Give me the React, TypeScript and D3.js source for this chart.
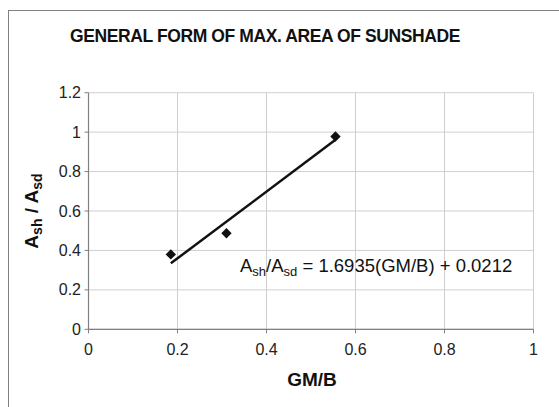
import React from 'react';
import * as d3 from 'd3';

const gmB = [0.185, 0.31, 0.555];
const areaRatio = [0.38, 0.487, 0.978];
const xTicks = [0, 0.2, 0.4, 0.6, 0.8, 1];
const yTicks = [0, 0.2, 0.4, 0.6, 0.8, 1, 1.2];
const slope = 1.6935;
const intercept = 0.0212;

const W = 559;
const H = 407;
const font = 'Arial, "Liberation Sans", Helvetica, sans-serif';

export default function App() {
  const x = d3.scaleLinear().domain([0, 1]).range([88.5, 533.5]);
  const y = d3.scaleLinear().domain([0, 1.2]).range([329.3, 92.7]);

  const xMin = d3.min(gmB) as number;
  const xMax = d3.max(gmB) as number;
  const trend = d3.line<number>()
    .x(d => x(d))
    .y(d => y(slope * d + intercept))([xMin, xMax]);

  const diamond = d3.symbol().type(d3.symbolDiamond2).size(68)();

  return (
    <svg width={W} height={H} style={{ position: 'absolute', left: 0, top: 0, fontFamily: font }}>
      <rect x={0} y={0} width={W} height={H} fill="#fff" />
      {/* chart border */}
      <rect x={8.5} y={10.5} width={W + 10} height={H + 10} fill="none" stroke="#808080" strokeWidth={1} />

      <text x={265} y={42} textAnchor="middle" fontWeight="bold" fontSize={17.5} letterSpacing={-0.4} fill="#111">
        GENERAL FORM OF MAX. AREA OF SUNSHADE
      </text>

      {/* grid */}
      {xTicks.map(t => (
        <line key={'gx' + t} x1={x(t)} x2={x(t)} y1={y(0)} y2={y(1.2)} stroke="#cfcfcf" strokeWidth={1} />
      ))}
      {yTicks.map(t => (
        <line key={'gy' + t} x1={x(0)} x2={x(1)} y1={y(t)} y2={y(t)} stroke="#cfcfcf" strokeWidth={1} />
      ))}

      {/* axes */}
      <line x1={x(0)} x2={x(0)} y1={y(0)} y2={y(1.2)} stroke="#808080" strokeWidth={1.2} />
      <line x1={x(0)} x2={x(1)} y1={y(0)} y2={y(0)} stroke="#808080" strokeWidth={1.2} />
      {yTicks.map(t => (
        <g key={'ty' + t}>
          <line x1={x(0) - 4} x2={x(0)} y1={y(t)} y2={y(t)} stroke="#808080" />
          <text x={81} y={y(t) + 5.5} textAnchor="end" fontSize={16} fill="#222">{d3.format('~g')(t)}</text>
        </g>
      ))}
      {xTicks.map(t => (
        <g key={'tx' + t}>
          <line x1={x(t)} x2={x(t)} y1={y(0)} y2={y(0) + 4} stroke="#808080" />
          <text x={x(t)} y={355} textAnchor="middle" fontSize={16} fill="#222">{d3.format('~g')(t)}</text>
        </g>
      ))}

      {/* trendline */}
      <path d={trend ?? ''} fill="none" stroke="#111" strokeWidth={2.5} />

      {/* points */}
      {gmB.map((v, i) => (
        <path key={'p' + i} d={diamond ?? ''} transform={`translate(${x(v)},${y(areaRatio[i])})`} fill="#111" />
      ))}

      {/* equation */}
      <text x={240} y={272} fontSize={18.5} fill="#111">
        A<tspan fontSize={13} dy={4}>sh</tspan>
        <tspan dy={-4}>/A</tspan>
        <tspan fontSize={13} dy={4}>sd</tspan>
        <tspan dy={-4}> = 1.6935(GM/B) + 0.0212</tspan>
      </text>

      {/* axis titles */}
      <text x={312} y={386} textAnchor="middle" fontWeight="bold" fontSize={19} fill="#111">GM/B</text>
      <text transform="translate(38,211) rotate(-90)" textAnchor="middle" fontWeight="bold" fontSize={19} fill="#111">
        A<tspan fontSize={14} dy={4}>sh</tspan>
        <tspan dy={-4}> / A</tspan>
        <tspan fontSize={14} dy={4}>sd</tspan>
      </text>
    </svg>
  );
}
